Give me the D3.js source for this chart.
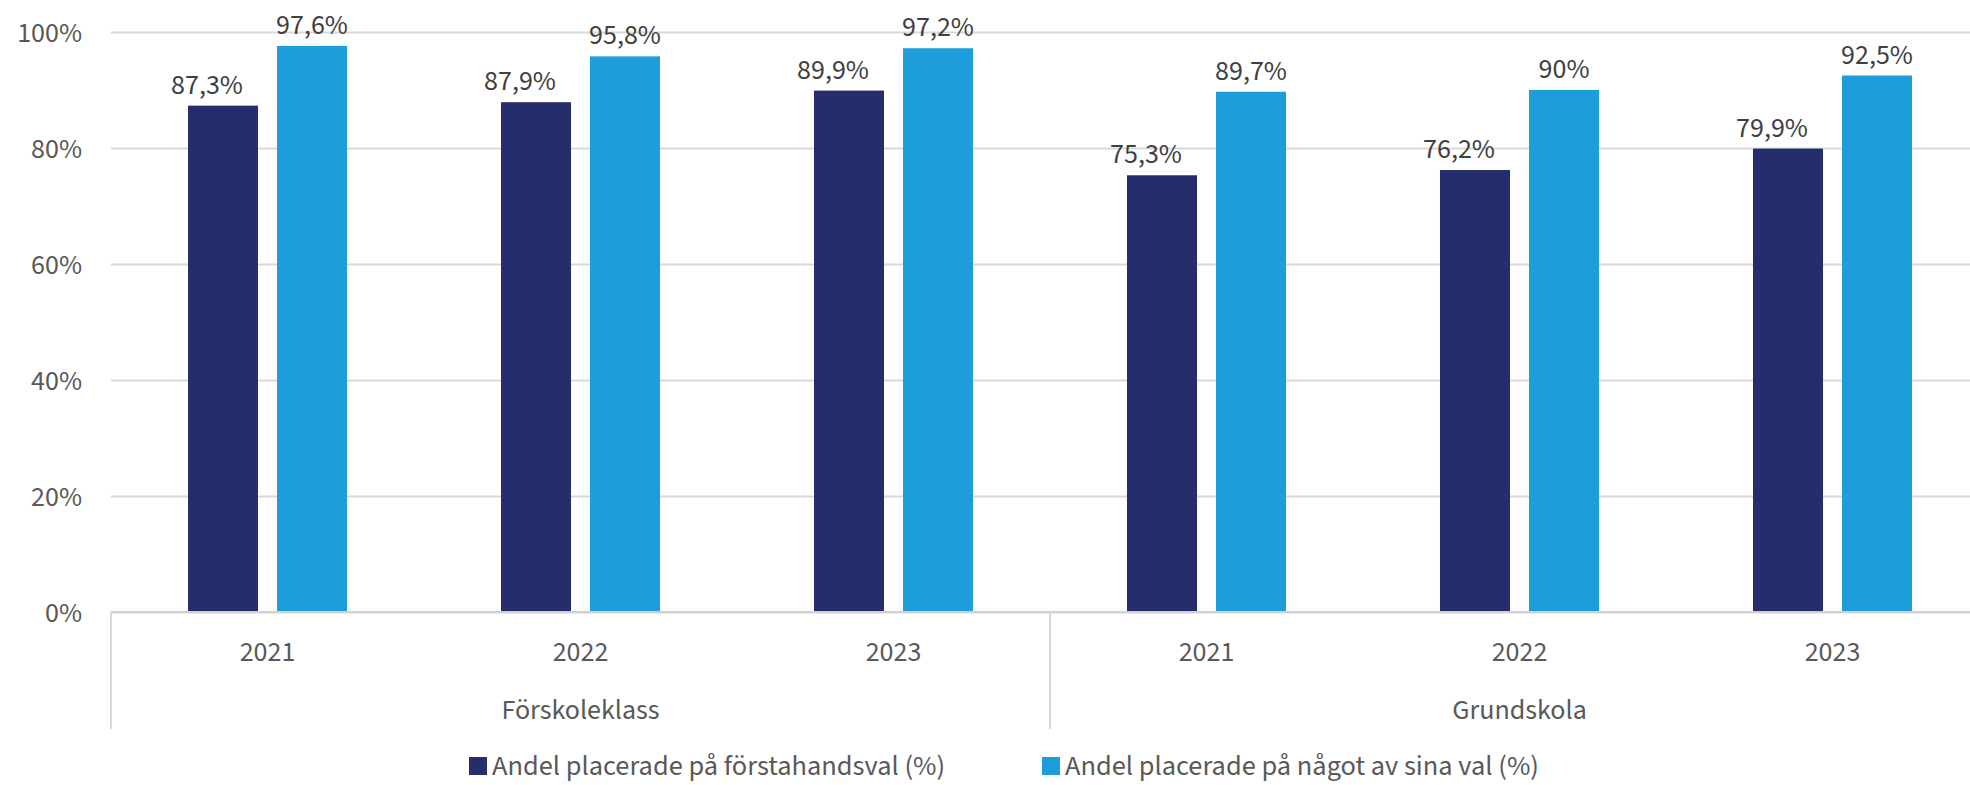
<!DOCTYPE html>
<html lang="sv">
<head>
<meta charset="utf-8">
<script src="https://cdn.jsdelivr.net/npm/d3@7"></script>
<style>
  html, body { margin: 0; padding: 0; background: #fff; }
  svg { display: block; font-family: "Source Sans Pro", "Source Sans 3", Roboto, sans-serif; }
  .tick text { fill: #595959; font-size: 28px; }
  .grid line { stroke: #d9d9d9; stroke-width: 2; }
  .value-label { fill: #404040; font-size: 28px; }
  .axis-label { fill: #595959; font-size: 28px; }
  .legend-label { fill: #595959; font-size: 28.4px; }
</style>
</head>
<body>
<svg id="chart" width="1970" height="785"></svg>
<script>
'use strict';

const groups = ['Förskoleklass', 'Grundskola'];
const years = ['2021', '2022', '2023'];
const seriesNames = [
  'Andel placerade på förstahandsval (%)',
  'Andel placerade på något av sina val (%)'
];
const seriesColors = ['#252d6c', '#1d9dd9'];
const firstChoice = [87.3, 87.9, 89.9, 75.3, 76.2, 79.9];
const anyChoice = [97.6, 95.8, 97.2, 89.7, 90.0, 92.5];
const yTicks = [0, 20, 40, 60, 80, 100];

(function () {
  const svg = d3.select('#chart');
  const left = 111;
  const top = 32;
  const bottom = 612;
  const step = 313;

  const rows = [];
  groups.forEach((g, gi) => {
    years.forEach((yr, yi) => {
      const i = gi * years.length + yi;
      rows.push({ key: g + '|' + yr, group: g, year: yr, values: [firstChoice[i], anyChoice[i]] });
    });
  });

  const x = d3.scaleBand()
    .domain(rows.map((d) => d.key))
    .range([left, left + step * rows.length])
    .padding(0);

  const xs = d3.scaleBand()
    .domain([0, 1])
    .range([0, x.bandwidth()])
    .paddingInner(0.2135)
    .paddingOuter(0.865);

  const y = d3.scaleLinear().domain([0, 100]).range([bottom, top]);

  // gridlines + y labels
  const yAxis = svg.append('g')
    .attr('class', 'grid')
    .attr('transform', `translate(${left},0)`)
    .call(d3.axisLeft(y)
      .tickValues(yTicks)
      .tickSize(-(1970 - left))
      .tickPadding(29)
      .tickFormat((d) => d + '%'));
  yAxis.attr('font-family', null).attr('font-size', null);
  yAxis.select('.domain').remove();
  yAxis.selectAll('.tick text').attr('dy', '0.35em');

  // bars
  const cols = svg.append('g')
    .selectAll('g')
    .data(rows)
    .join('g')
    .attr('transform', (d) => `translate(${x(d.key)},0)`);

  cols.selectAll('rect')
    .data((d) => d.values.map((v, i) => ({ v, i })))
    .join('rect')
    .attr('x', (d) => xs(d.i))
    .attr('width', xs.bandwidth())
    .attr('y', (d) => y(d.v))
    .attr('height', (d) => y(0) - y(d.v))
    .attr('fill', (d) => seriesColors[d.i]);

  const fmt = (v) => (Number.isInteger(v) ? String(v) : v.toFixed(1).replace('.', ',')) + '%';

  cols.selectAll('text')
    .data((d) => d.values.map((v, i) => ({ v, i })))
    .join('text')
    .attr('class', 'value-label')
    .attr('text-anchor', 'middle')
    .attr('x', (d) => xs(d.i) + xs.bandwidth() / 2 + (d.i === 0 ? -16 : 0))
    .attr('y', (d) => y(d.v) - 12)
    .text((d) => fmt(d.v));

  // baseline
  svg.append('line')
    .attr('x1', left).attr('x2', 1970)
    .attr('y1', bottom).attr('y2', bottom)
    .attr('stroke', '#d0d0d0').attr('stroke-width', 2);

  // category separators
  const sepX = [left, left + step * years.length, left + step * rows.length];
  svg.append('g')
    .selectAll('line')
    .data(sepX)
    .join('line')
    .attr('x1', (d) => d).attr('x2', (d) => d)
    .attr('y1', bottom).attr('y2', 729)
    .attr('stroke', '#d9d9d9').attr('stroke-width', 2);

  // year labels
  svg.append('g')
    .selectAll('text')
    .data(rows)
    .join('text')
    .attr('class', 'axis-label')
    .attr('text-anchor', 'middle')
    .attr('x', (d) => x(d.key) + x.bandwidth() / 2)
    .attr('y', 661)
    .text((d) => d.year);

  // group labels
  svg.append('g')
    .selectAll('text')
    .data(groups)
    .join('text')
    .attr('class', 'axis-label')
    .attr('text-anchor', 'middle')
    .attr('x', (d, i) => left + step * years.length * (i + 0.5))
    .attr('y', 719)
    .text((d) => d);

  // legend
  const legendX = [469, 1042];
  const legend = svg.append('g')
    .selectAll('g')
    .data(seriesNames)
    .join('g')
    .attr('transform', (d, i) => `translate(${legendX[i]},757)`);

  legend.append('rect')
    .attr('width', 18).attr('height', 18)
    .attr('fill', (d, i) => seriesColors[i]);

  legend.append('text')
    .attr('class', 'legend-label')
    .attr('x', 23)
    .attr('y', 18)
    .text((d) => d);
})();
</script>
</body>
</html>
